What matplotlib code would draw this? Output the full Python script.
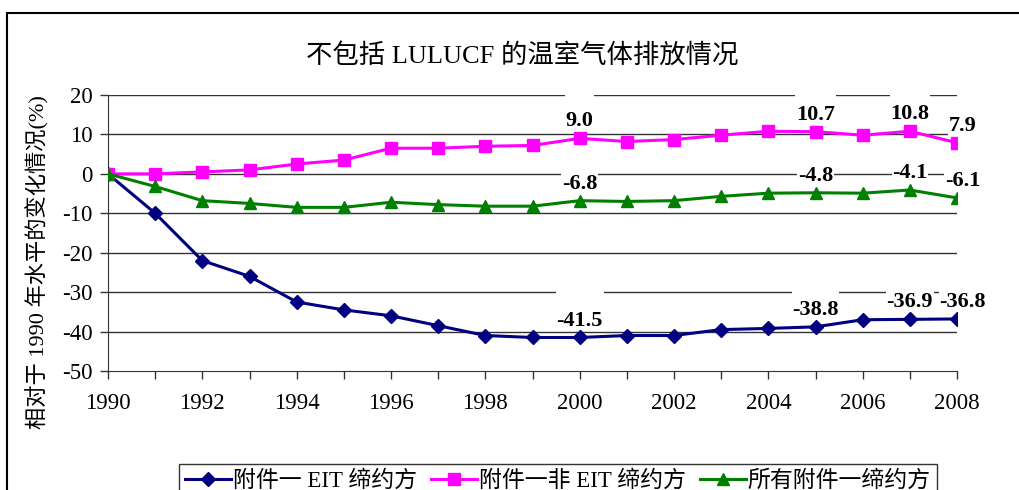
import matplotlib
matplotlib.use('Agg')
import matplotlib.pyplot as plt
from matplotlib.patches import Rectangle

# 字体：数字用衬线体，中文用 Noto Sans CJK
plt.rcParams['font.family'] = ['Liberation Serif', 'Noto Sans CJK SC']
plt.rcParams['axes.unicode_minus'] = False

years = list(range(1990, 2009))
eit = [0, -10, -22, -26, -32.5, -34.5, -36, -38.5, -41, -41.5,
       -41.5, -41, -41, -39.5, -39.2, -38.8, -37, -36.9, -36.8]
non_eit = [0, 0, 0.5, 1, 2.5, 3.5, 6.5, 6.5, 7, 7.2,
           9.0, 8.2, 8.7, 9.8, 10.8, 10.7, 9.8, 10.8, 7.9]
all_annex = [0, -3.2, -6.8, -7.5, -8.5, -8.5, -7.2, -7.8, -8.2, -8.2,
             -6.8, -7.0, -6.8, -5.7, -4.9, -4.8, -4.9, -4.1, -6.1]
label_years = [2000, 2005, 2007, 2008]

series_names = ['附件一 EIT 缔约方', '附件一非 EIT 缔约方', '所有附件一缔约方']
title = '不包括 LULUCF 的温室气体排放情况'
ylabel = '相对于 1990 年水平的变化情况(%)'
yticks = list(range(-50, 21, 10))
xticks = list(range(1990, 2009, 2))

fig = plt.figure(figsize=(10.2, 4.9), dpi=100)
ax = fig.add_axes([108 / 1020, 1 - 371 / 490, (957 - 108) / 1020, (371 - 95) / 490])

# 外框
fig.patches.append(Rectangle((7 / 1020, -0.5), 1.5, 1 - 13 / 490 + 0.5,
                             transform=fig.transFigure, fill=False,
                             edgecolor='black', linewidth=1.5))

for v in yticks[1:]:
    ax.axhline(v, color='#333333', linewidth=1.0, zorder=1)

ax.plot(years, eit, color='#000080', marker='D', markersize=7, linewidth=2.2,
        label=series_names[0], zorder=3)
ax.plot(years, non_eit, color='#FF00FF', marker='s', markersize=8.5, linewidth=2.2,
        label=series_names[1], zorder=3)
ax.plot(years, all_annex, color='#008000', marker='^', markersize=9, linewidth=2.2,
        label=series_names[2], zorder=3)

# 数据标签（白底，遮住上方网格线）
for vals in (eit, non_eit, all_annex):
    for yr in label_years:
        v = vals[years.index(yr)]
        dx = 4 if yr == 2008 else 0
        ax.annotate('\n%.1f' % v, (yr, v), xytext=(dx, 5), textcoords='offset points',
                    ha='center', va='bottom', fontsize=16, fontweight='bold',
                    linespacing=0.9, zorder=2,
                    bbox=dict(facecolor='white', edgecolor='none', pad=0.5))

ax.set_xlim(1990, 2008)
ax.set_ylim(-50, 20)
ax.set_xticks(years, minor=False)
ax.set_xticklabels([str(y) if y in xticks else '' for y in years])
ax.set_yticks(yticks)
ax.tick_params(axis='both', direction='out', length=6, width=1, labelsize=16.5,
               color='#333333')
ax.tick_params(axis='x', pad=10)
ax.tick_params(axis='y', pad=5)
for s in ('top', 'right'):
    ax.spines[s].set_visible(False)
for s in ('left', 'bottom'):
    ax.spines[s].set_color('#333333')

fig.text(522 / 1020, 1 - 55 / 490, title, ha='center', va='center', fontsize=19)
fig.text(38 / 1020, 1 - 262 / 490, ylabel, rotation=90, ha='center', va='center',
         fontsize=16)

leg = fig.legend(loc='upper center', bbox_to_anchor=(558 / 1020, 1 - 453 / 490),
                 ncol=3, fontsize=16.5, frameon=True, fancybox=False,
                 edgecolor='black', handlelength=2.0, columnspacing=0.6,
                 handletextpad=0.1, borderpad=0.25)
leg.get_frame().set_linewidth(1.0)

fig.savefig('out.png', dpi=100)
